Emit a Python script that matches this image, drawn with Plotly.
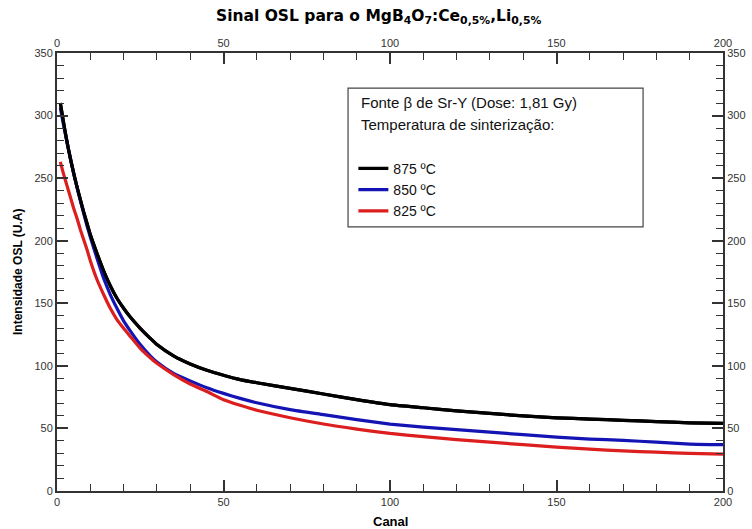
import plotly.graph_objects as go

canal = [1, 2, 3, 4, 5, 6, 7, 8, 9, 10, 12, 14, 16, 18, 20, 22, 25, 28, 30, 35, 40, 45, 50, 55, 60,
         70, 80, 90, 100, 110, 120, 130, 140, 150, 160, 170, 180, 190, 200]
osl_875 = [310, 294, 279, 266, 254, 243, 233, 223, 214, 205, 190, 176, 164, 154, 146, 139, 130, 122, 117,
           108, 101.5, 96.5, 92.5, 89, 86.5, 82, 77.5, 73, 69, 66.5, 64, 62, 60, 58.5, 57.5, 56.5, 55.5,
           54.5, 54]
osl_850 = [306, 292, 279, 266, 254, 243, 232, 222, 212, 203, 186, 170, 157, 146, 136, 128, 117, 108, 103,
           94, 88, 82.5, 78, 74, 70.5, 65, 61, 57, 53.5, 51, 49, 47, 45, 43, 41.5, 40.5, 39, 37.5, 37]
osl_825 = [263, 253, 244, 235, 226, 218, 209, 201, 193, 184, 169, 157, 146, 137, 130, 123.5, 114, 106.5,
           102, 93, 85.5, 79.5, 73, 68.5, 64.5, 58.5, 53.5, 49.5, 46, 43.5, 41, 39, 37, 35, 33.5, 32, 31, 30,
           29.5]
series_names = ["875 ºC", "850 ºC", "825 ºC"]
series_colors = ["#000000", "#1414b4", "#dc1e1e"]
x_ticks = [0, 50, 100, 150, 200]
y_ticks = [0, 50, 100, 150, 200, 250, 300, 350]

fig = go.Figure()
for name, vals, col in zip(series_names, [osl_875, osl_850, osl_825], series_colors):
    fig.add_trace(go.Scatter(x=canal, y=vals, mode="lines", name=name,
                             line=dict(color=col, width=3.2, shape="spline", smoothing=0.5),
                             hoverinfo="skip"))
# same data on mirrored axes so the top/right axes are drawn
fig.add_trace(go.Scatter(x=canal, y=osl_875, mode="lines", xaxis="x2", yaxis="y2",
                         line=dict(color="#000000", width=3.2, shape="spline", smoothing=0.5),
                         showlegend=False, hoverinfo="skip"))

tickfont = dict(family="Liberation Sans Narrow, Liberation Sans, Arial", size=11, color="#333333")
minor = dict(ticks="inside", dtick=10, ticklen=7, tickwidth=1.2, tickcolor="#333333")
common = dict(showgrid=False, zeroline=False, ticks="inside", ticklen=11, tickwidth=1.5,
              tickcolor="#333333", showline=True, linewidth=2, linecolor="#333333",
              tickfont=tickfont, fixedrange=True, minor=minor, automargin=False)
fig.update_layout(
    width=752, height=529, autosize=False,
    margin=dict(l=57, r=29, t=53, b=38, autoexpand=False),
    paper_bgcolor="white", plot_bgcolor="white",
    xaxis=dict(range=[0, 200], tickvals=x_ticks, ticktext=[str(v) for v in x_ticks], **common),
    yaxis=dict(range=[0, 350], tickvals=y_ticks, ticktext=[str(v) for v in y_ticks], **common),
    xaxis2=dict(range=[0, 200], tickvals=x_ticks, ticktext=[str(v) for v in x_ticks],
                overlaying="x", side="top", anchor="y", **common),
    yaxis2=dict(range=[0, 350], tickvals=y_ticks, ticktext=[str(v) for v in y_ticks],
                overlaying="y", side="right", anchor="x", **common),
    showlegend=True,
    legend=dict(x=0.445, y=0.772, xanchor="left", yanchor="top", bgcolor="rgba(0,0,0,0)",
                font=dict(family="Liberation Sans, Arial", size=14, color="#111111"),
                tracegroupgap=0, itemwidth=30),
    shapes=[dict(type="rect", xref="paper", yref="paper", x0=0.437, x1=0.88, y0=0.603, y1=0.920,
                 line=dict(color="#444444", width=1.2), fillcolor="rgba(0,0,0,0)")],
    annotations=[
        dict(text="<b>Sinal OSL para o MgB<sub>4</sub>O<sub>7</sub>:Ce<sub>0,5%</sub>,Li<sub>0,5%</sub></b>",
             xref="paper", yref="paper", x=0.482, y=1.083, xanchor="center", yanchor="middle",
             showarrow=False, font=dict(family="DejaVu Sans, Verdana", size=15.5, color="#000000")),
        dict(text="Fonte β de Sr-Y (Dose: 1,81 Gy)", xref="paper", yref="paper", x=0.453, y=0.886,
             xanchor="left", yanchor="middle", showarrow=False,
             font=dict(family="Liberation Sans, Arial", size=15, color="#111111")),
        dict(text="Temperatura de sinterização:", xref="paper", yref="paper", x=0.453, y=0.836,
             xanchor="left", yanchor="middle", showarrow=False,
             font=dict(family="Liberation Sans, Arial", size=15, color="#111111")),
        dict(text="<b>Canal</b>", xref="paper", yref="paper", x=0.5, y=-0.0685,
             xanchor="center", yanchor="middle", showarrow=False,
             font=dict(family="Liberation Sans Narrow, Liberation Sans, Arial", size=13, color="#000000")),
        dict(text="<b>Intensidade OSL (U.A)</b>", xref="paper", yref="paper", x=-0.0586, y=0.5,
             xanchor="center", yanchor="middle", textangle=-90, showarrow=False,
             font=dict(family="Liberation Sans Narrow, Liberation Sans, Arial", size=12, color="#000000")),
    ],
)
fig.write_html("out.html", config={"displayModeBar": False},
               post_script="document.body.style.margin='0';document.body.style.overflow='hidden';")
